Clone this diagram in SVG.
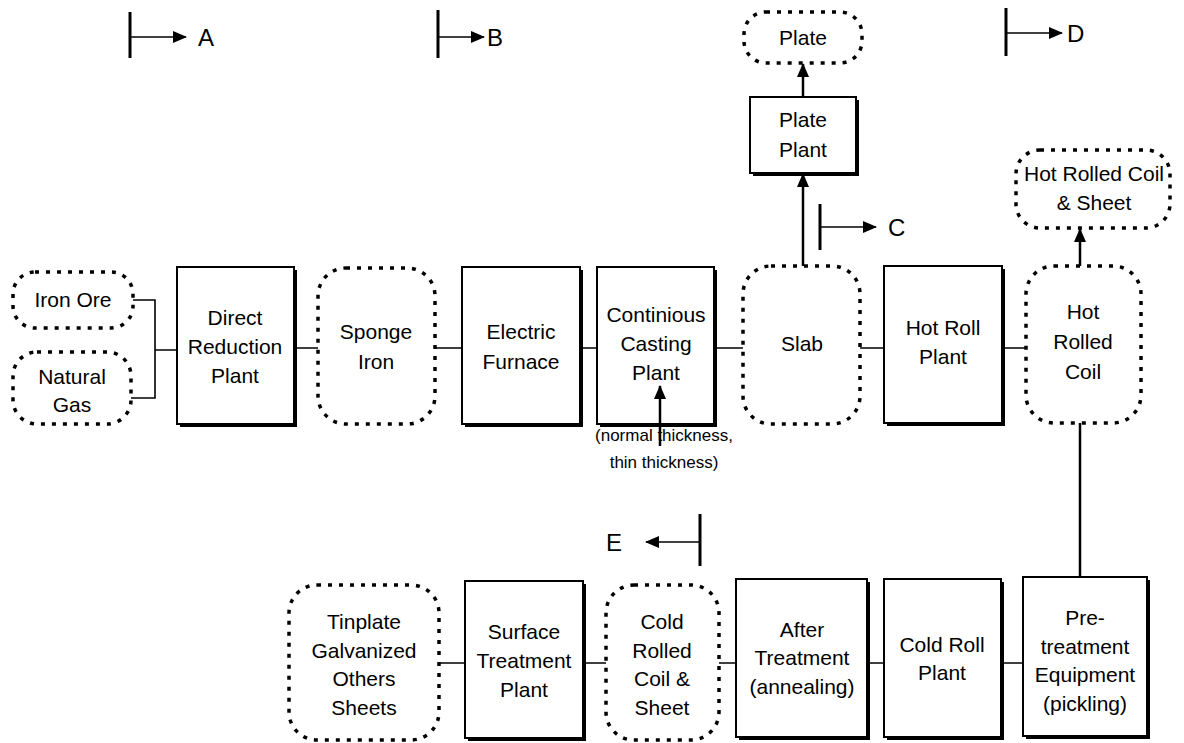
<svg xmlns="http://www.w3.org/2000/svg" width="1184" height="743" viewBox="0 0 1184 743">
<defs>
<marker id="ah" markerWidth="14" markerHeight="12" refX="13" refY="6" orient="auto" markerUnits="userSpaceOnUse"><path d="M0,0 L14,6 L0,12 Z" fill="#000"/></marker>
<style>
text { font-family: "Liberation Sans", Arial, sans-serif; font-size: 21px; fill: #000; text-anchor: middle; }
.box { fill: #fff; stroke: #000; stroke-width: 2; }
.sh { fill: #000; }
.dot { fill: #fff; stroke: #000; stroke-width: 3.5; stroke-dasharray: 4 7; }
.ln { stroke: #000; stroke-width: 1.6; fill: none; }
.vl { stroke: #000; stroke-width: 2.5; fill: none; }
.bar { stroke: #000; stroke-width: 3; fill: none; }
.lbl { font-size: 24px; text-anchor: start; }
.note { font-size: 17px; }
</style>
</defs>
<rect width="1184" height="743" fill="#fff"/>

<g id="connectors">
  <path class="ln" d="M133,300 H155 V398 H131 M155,350 H177"/>
  <path class="ln" d="M294,348 H318 M435,348 H462 M580,348 H597 M714,348 H743 M860,348 H884 M1002,348 H1026"/>
  <path class="ln" d="M439,663 H465 M583,663 H606 M719,663 H736 M867,663 H884 M1001,663 H1023"/>
  <path class="vl" d="M803,266 V174" marker-end="url(#ah)"/>
  <path class="vl" d="M803,97 V64" marker-end="url(#ah)"/>
  <path class="vl" d="M1080,266 V229" marker-end="url(#ah)"/>
  <path class="vl" d="M1080,423 V577"/>
</g>

<g id="marker-A"><path class="bar" d="M130,12 V58"/><path class="ln" d="M130,37 H186" marker-end="url(#ah)"/><text class="lbl" x="198" y="46">A</text></g>
<g id="marker-B"><path class="bar" d="M438,10 V58"/><path class="ln" d="M438,37 H484" marker-end="url(#ah)"/><text class="lbl" x="487" y="46">B</text></g>
<g id="marker-C"><path class="bar" d="M820,204 V250"/><path class="ln" d="M820,227 H876" marker-end="url(#ah)"/><text class="lbl" x="888" y="236">C</text></g>
<g id="marker-D"><path class="bar" d="M1006,8 V56"/><path class="ln" d="M1006,33 H1062" marker-end="url(#ah)"/><text class="lbl" x="1067" y="42">D</text></g>
<g id="marker-E"><path class="bar" d="M700,514 V566"/><path class="ln" d="M700,542 H646" marker-end="url(#ah)"/><text class="lbl" x="606" y="551">E</text></g>

<g id="iron-ore"><rect class="dot" x="13" y="272" width="120" height="56" rx="22"/><text x="73" y="307">Iron Ore</text></g>
<g id="natural-gas"><rect class="dot" x="13" y="352" width="118" height="72" rx="24"/><text x="72" y="384">Natural</text><text x="72" y="412">Gas</text></g>
<g id="direct-reduction"><rect class="sh" x="180" y="270" width="117" height="157"/><rect class="box" x="177" y="267" width="117" height="157"/><text x="235" y="325">Direct</text><text x="235" y="354">Reduction</text><text x="235" y="383">Plant</text></g>
<g id="sponge-iron"><rect class="dot" x="318" y="268" width="117" height="156" rx="28"/><text x="376" y="339">Sponge</text><text x="376" y="369">Iron</text></g>
<g id="electric-furnace"><rect class="sh" x="465" y="270" width="118" height="157"/><rect class="box" x="462" y="267" width="118" height="157"/><text x="521" y="339">Electric</text><text x="521" y="369">Furnace</text></g>
<g id="continuous-casting"><rect class="sh" x="600" y="270" width="117" height="157"/><rect class="box" x="597" y="267" width="117" height="157"/><text x="656" y="322">Continious</text><text x="656" y="351">Casting</text><text x="656" y="380">Plant</text></g>
<g id="casting-note"><path class="vl" d="M660,446 V386" marker-end="url(#ah)"/><text class="note" x="664" y="441">(normal thickness,</text><text class="note" x="664" y="468">thin thickness)</text></g>
<g id="slab"><rect class="dot" x="743" y="266" width="117" height="158" rx="28"/><text x="802" y="351">Slab</text></g>
<g id="hot-roll-plant"><rect class="sh" x="887" y="269" width="118" height="157"/><rect class="box" x="884" y="266" width="118" height="157"/><text x="943" y="335">Hot Roll</text><text x="943" y="364">Plant</text></g>
<g id="hot-rolled-coil"><rect class="dot" x="1026" y="266" width="115" height="157" rx="28"/><text x="1083" y="319">Hot</text><text x="1083" y="349">Rolled</text><text x="1083" y="379">Coil</text></g>
<g id="plate-plant"><rect class="sh" x="753" y="100" width="106" height="76"/><rect class="box" x="750" y="97" width="106" height="76"/><text x="803" y="127">Plate</text><text x="803" y="157">Plant</text></g>
<g id="plate"><rect class="dot" x="744" y="12" width="118" height="51" rx="22"/><text x="803" y="45">Plate</text></g>
<g id="hot-rolled-coil-sheet"><rect class="dot" x="1016" y="150" width="154" height="78" rx="24"/><text x="1094" y="181">Hot Rolled Coil</text><text x="1094" y="210">&amp; Sheet</text></g>

<g id="tinplate"><rect class="dot" x="289" y="585" width="150" height="155" rx="28"/><text x="364" y="629">Tinplate</text><text x="364" y="658">Galvanized</text><text x="364" y="686">Others</text><text x="364" y="715">Sheets</text></g>
<g id="surface-treatment"><rect class="sh" x="468" y="584" width="118" height="157"/><rect class="box" x="465" y="581" width="118" height="157"/><text x="524" y="639">Surface</text><text x="524" y="668">Treatment</text><text x="524" y="697">Plant</text></g>
<g id="cold-rolled-coil"><rect class="dot" x="606" y="585" width="113" height="155" rx="28"/><text x="662" y="629">Cold</text><text x="662" y="658">Rolled</text><text x="662" y="686">Coil &amp;</text><text x="662" y="715">Sheet</text></g>
<g id="after-treatment"><rect class="sh" x="739" y="582" width="131" height="158"/><rect class="box" x="736" y="579" width="131" height="158"/><text x="802" y="637">After</text><text x="802" y="665">Treatment</text><text x="802" y="694">(annealing)</text></g>
<g id="cold-roll-plant"><rect class="sh" x="887" y="582" width="117" height="158"/><rect class="box" x="884" y="579" width="117" height="158"/><text x="942" y="652">Cold Roll</text><text x="942" y="680">Plant</text></g>
<g id="pretreatment"><rect class="sh" x="1026" y="580" width="124" height="159"/><rect class="box" x="1023" y="577" width="124" height="159"/><text x="1085" y="625">Pre-</text><text x="1085" y="654">treatment</text><text x="1085" y="682">Equipment</text><text x="1085" y="711">(pickling)</text></g>
</svg>
